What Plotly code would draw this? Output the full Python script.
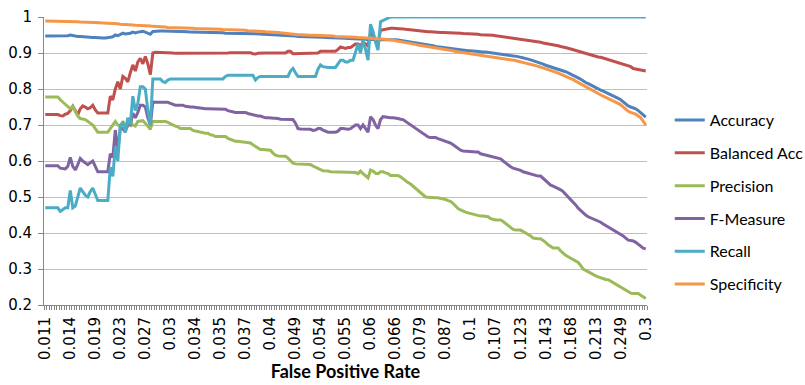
import plotly.graph_objects as go

# Category labels shown on the x axis (one every 10 thresholds)
fpr_labels = ["0.011", "0.014", "0.019", "0.023", "0.027", "0.03", "0.034", "0.035",
              "0.037", "0.04", "0.049", "0.054", "0.055", "0.06", "0.066", "0.079",
              "0.087", "0.1", "0.107", "0.123", "0.143", "0.168", "0.213", "0.249", "0.3"]

accuracy = [
    0.947, 0.947, 0.947, 0.947, 0.947, 0.947, 0.946, 0.946, 0.947, 0.948,
    0.950, 0.948, 0.947, 0.946, 0.946, 0.945, 0.944, 0.944, 0.943, 0.943,
    0.943, 0.942, 0.942, 0.942, 0.942, 0.942, 0.944, 0.945, 0.950, 0.948,
    0.952, 0.955, 0.953, 0.953, 0.955, 0.958, 0.956, 0.958, 0.960, 0.960,
    0.958, 0.955, 0.952, 0.960, 0.961, 0.961, 0.961, 0.961, 0.961, 0.960,
    0.960, 0.960, 0.960, 0.960, 0.959, 0.959, 0.959, 0.959, 0.958, 0.958,
    0.958, 0.958, 0.958, 0.957, 0.957, 0.957, 0.957, 0.957, 0.956, 0.956,
    0.956, 0.956, 0.955, 0.955, 0.955, 0.955, 0.955, 0.955, 0.954, 0.954,
    0.954, 0.954, 0.954, 0.953, 0.953, 0.953, 0.953, 0.952, 0.952, 0.952,
    0.951, 0.951, 0.950, 0.950, 0.949, 0.949, 0.948, 0.948, 0.947, 0.947,
    0.947, 0.946, 0.946, 0.946, 0.945, 0.945, 0.945, 0.945, 0.944, 0.944,
    0.944, 0.944, 0.943, 0.943, 0.943, 0.942, 0.942, 0.942, 0.941, 0.941,
    0.941, 0.940, 0.940, 0.940, 0.939, 0.939, 0.938, 0.938, 0.938, 0.937,
    0.938, 0.938, 0.937, 0.937, 0.939, 0.939, 0.939, 0.939, 0.939, 0.939,
    0.937, 0.936, 0.935, 0.934, 0.933, 0.932, 0.930, 0.929, 0.928, 0.927,
    0.926, 0.925, 0.923, 0.922, 0.921, 0.920, 0.918, 0.917, 0.916, 0.915,
    0.914, 0.912, 0.911, 0.910, 0.909, 0.908, 0.908, 0.907, 0.907, 0.906,
    0.906, 0.905, 0.905, 0.904, 0.904, 0.903, 0.903, 0.902, 0.902, 0.901,
    0.900, 0.900, 0.899, 0.898, 0.897, 0.896, 0.895, 0.893, 0.892, 0.890,
    0.888, 0.887, 0.885, 0.883, 0.881, 0.879, 0.877, 0.875, 0.872, 0.869,
    0.866, 0.864, 0.862, 0.859, 0.857, 0.854, 0.852, 0.850, 0.848, 0.845,
    0.842, 0.838, 0.835, 0.831, 0.827, 0.822, 0.818, 0.815, 0.811, 0.808,
    0.804, 0.800, 0.797, 0.794, 0.791, 0.788, 0.785, 0.782, 0.778, 0.774,
    0.770, 0.764, 0.758, 0.753, 0.750, 0.748, 0.745, 0.740, 0.735, 0.728,
    0.722,
]

balanced_acc = [
    0.729, 0.729, 0.729, 0.729, 0.729, 0.729, 0.726, 0.725, 0.730, 0.732,
    0.740, 0.752, 0.740, 0.728, 0.745, 0.753, 0.750, 0.745, 0.748, 0.755,
    0.742, 0.733, 0.733, 0.733, 0.733, 0.733, 0.780, 0.770, 0.800, 0.820,
    0.800, 0.835, 0.830, 0.820, 0.845, 0.867, 0.850, 0.875, 0.885, 0.870,
    0.890, 0.870, 0.840, 0.900, 0.902, 0.902, 0.901, 0.900, 0.900, 0.900,
    0.900, 0.900, 0.899, 0.899, 0.899, 0.898, 0.898, 0.898, 0.898, 0.898,
    0.898, 0.898, 0.898, 0.898, 0.898, 0.898, 0.898, 0.898, 0.898, 0.900,
    0.900, 0.900, 0.900, 0.900, 0.901, 0.901, 0.901, 0.901, 0.901, 0.901,
    0.901, 0.901, 0.901, 0.898, 0.897, 0.899, 0.900, 0.900, 0.900, 0.900,
    0.900, 0.900, 0.900, 0.900, 0.900, 0.900, 0.900, 0.905, 0.905, 0.898,
    0.898, 0.898, 0.898, 0.898, 0.898, 0.898, 0.898, 0.898, 0.898, 0.900,
    0.905, 0.905, 0.905, 0.905, 0.905, 0.905, 0.905, 0.910, 0.917, 0.915,
    0.913, 0.915, 0.915, 0.920, 0.925, 0.925, 0.920, 0.930, 0.925, 0.920,
    0.955, 0.950, 0.935, 0.930, 0.963, 0.965, 0.966, 0.968, 0.969, 0.969,
    0.969, 0.969, 0.968, 0.967, 0.966, 0.965, 0.964, 0.963, 0.962, 0.961,
    0.961, 0.960, 0.960, 0.959, 0.959, 0.958, 0.958, 0.958, 0.957, 0.957,
    0.957, 0.956, 0.956, 0.956, 0.955, 0.955, 0.955, 0.954, 0.954, 0.953,
    0.953, 0.953, 0.952, 0.952, 0.951, 0.951, 0.950, 0.950, 0.950, 0.949,
    0.948, 0.947, 0.947, 0.946, 0.945, 0.945, 0.944, 0.943, 0.942, 0.941,
    0.940, 0.939, 0.938, 0.937, 0.936, 0.935, 0.934, 0.932, 0.930, 0.928,
    0.927, 0.926, 0.925, 0.923, 0.921, 0.920, 0.918, 0.917, 0.915, 0.913,
    0.911, 0.909, 0.907, 0.905, 0.902, 0.899, 0.897, 0.895, 0.893, 0.891,
    0.890, 0.889, 0.888, 0.886, 0.884, 0.882, 0.880, 0.878, 0.876, 0.873,
    0.871, 0.869, 0.867, 0.865, 0.862, 0.857, 0.856, 0.855, 0.853, 0.851,
    0.850,
]

precision = [
    0.778, 0.778, 0.778, 0.778, 0.778, 0.778, 0.770, 0.763, 0.757, 0.750,
    0.745, 0.752, 0.740, 0.725, 0.718, 0.716, 0.715, 0.710, 0.705, 0.700,
    0.690, 0.680, 0.680, 0.680, 0.680, 0.680, 0.690, 0.700, 0.710, 0.700,
    0.695, 0.710, 0.700, 0.697, 0.710, 0.700, 0.697, 0.710, 0.710, 0.712,
    0.705, 0.695, 0.688, 0.710, 0.710, 0.710, 0.710, 0.710, 0.710, 0.707,
    0.703, 0.700, 0.697, 0.695, 0.690, 0.690, 0.690, 0.690, 0.690, 0.685,
    0.683, 0.681, 0.680, 0.677, 0.677, 0.677, 0.673, 0.672, 0.668, 0.668,
    0.668, 0.668, 0.668, 0.663, 0.660, 0.658, 0.655, 0.655, 0.655, 0.653,
    0.652, 0.651, 0.650, 0.645, 0.640, 0.636, 0.632, 0.632, 0.632, 0.632,
    0.630, 0.622, 0.616, 0.614, 0.613, 0.613, 0.613, 0.608, 0.600, 0.594,
    0.592, 0.592, 0.592, 0.592, 0.592, 0.592, 0.590, 0.586, 0.582, 0.578,
    0.576, 0.573, 0.573, 0.572, 0.570, 0.570, 0.570, 0.570, 0.570, 0.570,
    0.570, 0.570, 0.570, 0.570, 0.568, 0.565, 0.572, 0.565, 0.558, 0.553,
    0.575, 0.572, 0.566, 0.565, 0.570, 0.570, 0.567, 0.565, 0.560, 0.560,
    0.560, 0.560, 0.556, 0.550, 0.545, 0.540, 0.536, 0.530, 0.524, 0.518,
    0.512, 0.506, 0.500, 0.499, 0.498, 0.498, 0.498, 0.498, 0.497, 0.495,
    0.493, 0.490, 0.488, 0.482, 0.475, 0.468, 0.464, 0.460, 0.458, 0.456,
    0.454, 0.452, 0.450, 0.449, 0.447, 0.447, 0.447, 0.445, 0.440, 0.437,
    0.436, 0.436, 0.436, 0.432, 0.426, 0.420, 0.415, 0.410, 0.408, 0.408,
    0.408, 0.404, 0.400, 0.398, 0.392, 0.386, 0.384, 0.384, 0.384, 0.380,
    0.374, 0.367, 0.362, 0.358, 0.358, 0.358, 0.350, 0.343, 0.338, 0.334,
    0.330, 0.326, 0.322, 0.318, 0.310, 0.300, 0.296, 0.292, 0.287, 0.283,
    0.281, 0.278, 0.275, 0.273, 0.271, 0.270, 0.266, 0.262, 0.258, 0.254,
    0.250, 0.246, 0.242, 0.237, 0.233, 0.232, 0.232, 0.232, 0.227, 0.222,
    0.218,
]

f_measure = [
    0.587, 0.587, 0.587, 0.587, 0.587, 0.587, 0.580, 0.580, 0.578, 0.585,
    0.610, 0.585, 0.575, 0.590, 0.607, 0.600, 0.595, 0.590, 0.595, 0.600,
    0.585, 0.570, 0.570, 0.570, 0.570, 0.570, 0.620, 0.610, 0.686, 0.630,
    0.690, 0.690, 0.680, 0.705, 0.700, 0.733, 0.720, 0.735, 0.755, 0.755,
    0.750, 0.720, 0.700, 0.764, 0.763, 0.763, 0.763, 0.763, 0.763, 0.763,
    0.760, 0.757, 0.755, 0.755, 0.755, 0.755, 0.752, 0.750, 0.750, 0.750,
    0.750, 0.748, 0.747, 0.745, 0.745, 0.745, 0.745, 0.745, 0.744, 0.744,
    0.744, 0.744, 0.744, 0.740, 0.738, 0.737, 0.735, 0.735, 0.735, 0.735,
    0.735, 0.732, 0.730, 0.727, 0.725, 0.725, 0.725, 0.722, 0.720, 0.720,
    0.720, 0.720, 0.720, 0.718, 0.716, 0.716, 0.716, 0.716, 0.716, 0.715,
    0.705, 0.690, 0.689, 0.689, 0.689, 0.689, 0.688, 0.685, 0.686, 0.690,
    0.690, 0.686, 0.682, 0.680, 0.680, 0.680, 0.680, 0.683, 0.690, 0.690,
    0.688, 0.688, 0.690, 0.695, 0.700, 0.700, 0.690, 0.700, 0.690, 0.680,
    0.723, 0.715, 0.700, 0.690, 0.715, 0.723, 0.722, 0.720, 0.720, 0.720,
    0.720, 0.718, 0.716, 0.715, 0.710, 0.705, 0.700, 0.695, 0.690, 0.685,
    0.680, 0.675, 0.670, 0.667, 0.665, 0.665, 0.665, 0.662, 0.660, 0.658,
    0.655, 0.652, 0.650, 0.645, 0.640, 0.635, 0.630, 0.628, 0.628, 0.628,
    0.627, 0.626, 0.625, 0.625, 0.620, 0.618, 0.616, 0.614, 0.612, 0.610,
    0.608, 0.607, 0.606, 0.600, 0.594, 0.588, 0.584, 0.580, 0.578, 0.578,
    0.574, 0.570, 0.568, 0.566, 0.563, 0.560, 0.558, 0.558, 0.558, 0.552,
    0.545, 0.538, 0.533, 0.530, 0.527, 0.523, 0.520, 0.515, 0.508, 0.500,
    0.494, 0.486, 0.478, 0.469, 0.462, 0.455, 0.450, 0.445, 0.442, 0.440,
    0.438, 0.435, 0.430, 0.425, 0.421, 0.417, 0.413, 0.408, 0.404, 0.400,
    0.396, 0.392, 0.386, 0.380, 0.379, 0.378, 0.374, 0.368, 0.362, 0.358,
    0.356,
]

recall = [
    0.470, 0.470, 0.470, 0.470, 0.470, 0.470, 0.460, 0.465, 0.470, 0.470,
    0.518, 0.470, 0.475, 0.500, 0.525, 0.515, 0.505, 0.500, 0.515, 0.525,
    0.505, 0.490, 0.490, 0.490, 0.490, 0.490, 0.583, 0.557, 0.640, 0.600,
    0.700, 0.705, 0.680, 0.720, 0.700, 0.780, 0.740, 0.760, 0.806, 0.806,
    0.800, 0.740, 0.700, 0.828, 0.828, 0.828, 0.828, 0.820, 0.818, 0.825,
    0.828, 0.828, 0.828, 0.828, 0.828, 0.828, 0.828, 0.828, 0.828, 0.828,
    0.828, 0.828, 0.828, 0.828, 0.828, 0.828, 0.828, 0.828, 0.828, 0.828,
    0.828, 0.828, 0.835, 0.838, 0.838, 0.838, 0.838, 0.838, 0.838, 0.838,
    0.838, 0.838, 0.838, 0.838, 0.825, 0.832, 0.835, 0.835, 0.835, 0.835,
    0.835, 0.835, 0.835, 0.835, 0.835, 0.835, 0.835, 0.835, 0.850, 0.857,
    0.845, 0.835, 0.835, 0.835, 0.835, 0.835, 0.835, 0.835, 0.835, 0.855,
    0.867, 0.862, 0.860, 0.860, 0.860, 0.860, 0.860, 0.870, 0.880, 0.880,
    0.875, 0.875, 0.880, 0.880, 0.900, 0.925, 0.900, 0.935, 0.910, 0.880,
    0.980, 0.960, 0.930, 0.908, 0.987, 0.990, 0.992, 0.995, 1.000, 1.000,
    1.000, 1.000, 1.000, 1.000, 1.000, 1.000, 1.000, 1.000, 1.000, 1.000,
    1.000, 1.000, 1.000, 1.000, 1.000, 1.000, 1.000, 1.000, 1.000, 1.000,
    1.000, 1.000, 1.000, 1.000, 1.000, 1.000, 1.000, 1.000, 1.000, 1.000,
    1.000, 1.000, 1.000, 1.000, 1.000, 1.000, 1.000, 1.000, 1.000, 1.000,
    1.000, 1.000, 1.000, 1.000, 1.000, 1.000, 1.000, 1.000, 1.000, 1.000,
    1.000, 1.000, 1.000, 1.000, 1.000, 1.000, 1.000, 1.000, 1.000, 1.000,
    1.000, 1.000, 1.000, 1.000, 1.000, 1.000, 1.000, 1.000, 1.000, 1.000,
    1.000, 1.000, 1.000, 1.000, 1.000, 1.000, 1.000, 1.000, 1.000, 1.000,
    1.000, 1.000, 1.000, 1.000, 1.000, 1.000, 1.000, 1.000, 1.000, 1.000,
    1.000, 1.000, 1.000, 1.000, 1.000, 1.000, 1.000, 1.000, 1.000, 1.000,
    1.000,
]

specificity = [
    0.989, 0.989, 0.989, 0.989, 0.989, 0.989, 0.988, 0.988, 0.988, 0.988,
    0.988, 0.987, 0.987, 0.987, 0.986, 0.986, 0.986, 0.985, 0.985, 0.985,
    0.985, 0.984, 0.984, 0.983, 0.983, 0.982, 0.982, 0.981, 0.981, 0.981,
    0.980, 0.980, 0.979, 0.979, 0.978, 0.978, 0.977, 0.977, 0.977, 0.976,
    0.976, 0.975, 0.975, 0.974, 0.974, 0.973, 0.973, 0.972, 0.972, 0.971,
    0.971, 0.971, 0.970, 0.970, 0.970, 0.970, 0.969, 0.969, 0.969, 0.969,
    0.968, 0.968, 0.968, 0.968, 0.967, 0.967, 0.967, 0.967, 0.966, 0.966,
    0.966, 0.965, 0.965, 0.965, 0.965, 0.964, 0.964, 0.964, 0.963, 0.963,
    0.963, 0.962, 0.962, 0.962, 0.961, 0.961, 0.960, 0.960, 0.959, 0.959,
    0.958, 0.958, 0.957, 0.957, 0.956, 0.955, 0.955, 0.954, 0.953, 0.952,
    0.952, 0.951, 0.951, 0.950, 0.950, 0.950, 0.949, 0.949, 0.949, 0.948,
    0.948, 0.948, 0.948, 0.948, 0.947, 0.947, 0.946, 0.946, 0.946, 0.945,
    0.945, 0.945, 0.944, 0.944, 0.944, 0.943, 0.943, 0.942, 0.942, 0.942,
    0.941, 0.940, 0.940, 0.939, 0.939, 0.938, 0.938, 0.937, 0.937, 0.936,
    0.934, 0.933, 0.932, 0.930, 0.929, 0.928, 0.926, 0.925, 0.924, 0.922,
    0.921, 0.920, 0.919, 0.918, 0.917, 0.916, 0.914, 0.913, 0.912, 0.910,
    0.909, 0.908, 0.907, 0.906, 0.904, 0.903, 0.902, 0.901, 0.900, 0.899,
    0.898, 0.897, 0.896, 0.896, 0.895, 0.894, 0.893, 0.892, 0.891, 0.890,
    0.889, 0.888, 0.887, 0.886, 0.885, 0.884, 0.882, 0.881, 0.879, 0.877,
    0.876, 0.874, 0.872, 0.870, 0.869, 0.867, 0.865, 0.863, 0.861, 0.858,
    0.856, 0.854, 0.853, 0.850, 0.847, 0.844, 0.841, 0.839, 0.837, 0.834,
    0.830, 0.826, 0.822, 0.818, 0.814, 0.810, 0.806, 0.802, 0.798, 0.794,
    0.790, 0.787, 0.783, 0.780, 0.777, 0.774, 0.771, 0.768, 0.764, 0.760,
    0.756, 0.750, 0.744, 0.738, 0.735, 0.733, 0.730, 0.725, 0.720, 0.710,
    0.700,
]

series = [
    ("Accuracy", accuracy, "#4F81BD"),
    ("Balanced Acc", balanced_acc, "#C0504D"),
    ("Precision", precision, "#9BBB59"),
    ("F-Measure", f_measure, "#8064A2"),
    ("Recall", recall, "#4BACC6"),
    ("Specificity", specificity, "#F79646"),
]

n_points = len(accuracy)
positions = list(range(n_points))
label_every = 10

fig = go.Figure()
for name, values, color in series:
    fig.add_trace(go.Scatter(
        x=positions, y=values, name=name, mode="lines",
        legendgroup=name,
        line=dict(color=color, width=3),
    ))

axis_grey = "#868686"
fig.update_layout(
    width=805, height=385,
    margin=dict(l=44, r=158, t=17, b=80),
    paper_bgcolor="white", plot_bgcolor="white",
    showlegend=True,
    legend=dict(
        xref="container", yref="container",
        x=0.832, y=0.475, xanchor="left", yanchor="middle",
        maxheight=1.0,
        font=dict(family="Lato, Open Sans, sans-serif", size=16, color="#000000"),
        tracegroupgap=9, bgcolor="rgba(0,0,0,0)",
    ),
    xaxis=dict(
        range=[-0.5, n_points - 0.5],
        automargin=False,
        tickmode="array",
        tickvals=positions[::label_every],
        ticktext=fpr_labels,
        tickangle=-90,
        ticks="",
        ticklabelstandoff=5,
        showgrid=False, zeroline=False,
        showline=True, linecolor=axis_grey, linewidth=1,
        tickfont=dict(family="DejaVu Sans", size=15, color="#000000"),
        minor=dict(ticks="outside", ticklen=4, tickcolor=axis_grey,
                   tick0=-0.5, dtick=1, showgrid=False),
        title=dict(text="False Positive Rate",
                   font=dict(family="Lato, Open Sans, sans-serif", size=18,
                             color="#000000", weight="bold"),
                   standoff=5),
    ),
    yaxis=dict(
        range=[0.2, 1.0], dtick=0.1, tick0=0.2,
        automargin=False,
        ticks="outside", ticklen=5, tickcolor=axis_grey,
        ticklabelstandoff=3,
        showgrid=True, gridcolor="#bfbfbf", gridwidth=1,
        zeroline=False,
        showline=True, linecolor=axis_grey, linewidth=1,
        tickfont=dict(family="DejaVu Sans", size=15, color="#000000"),
    ),
)

fig.write_html("out.html")
